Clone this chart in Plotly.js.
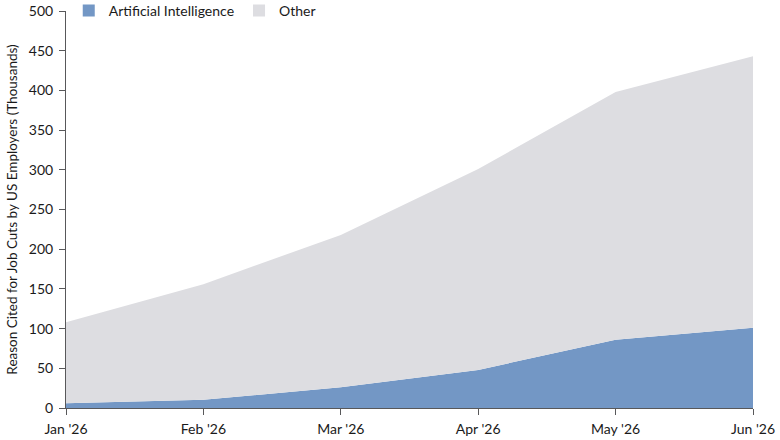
<!DOCTYPE html>
<html>
<head>
<meta charset="utf-8">
<script src="https://cdn.plot.ly/plotly-3.0.1.min.js"></script>
<style>
  html, body { margin: 0; padding: 0; background: #fff; }
  #plot { width: 780px; height: 440px; }
</style>
</head>
<body>
<div id="plot"></div>
<script>
// values, thousands of job cuts
const months = ["Jan '26", "Feb '26", "Mar '26", "Apr '26", "May '26", "Jun '26"];
const aiCuts = [6, 10.5, 26, 48, 86, 101];
const totalCuts = [108, 156, 218, 301, 398, 443];
const otherCuts = totalCuts.map((t, i) => t - aiCuts[i]);
const yTicks = [0, 50, 100, 150, 200, 250, 300, 350, 400, 450, 500];

const AI_COLOR = '#7397c5';
const OTHER_COLOR = '#dddde1';
const AXIS = '#58585a';
const FONT = 'Lato, "Open Sans", sans-serif';

const data = [
  {
    x: months,
    y: aiCuts,
    name: 'Artificial Intelligence',
    type: 'scatter',
    mode: 'none',
    stackgroup: 'one',
    fillcolor: AI_COLOR,
    showlegend: false,
    hoverinfo: 'skip'
  },
  {
    x: months,
    y: otherCuts,
    name: 'Other',
    type: 'scatter',
    mode: 'none',
    stackgroup: 'one',
    fillcolor: OTHER_COLOR,
    showlegend: false,
    hoverinfo: 'skip'
  },
  // zero-height bars, only there to get square legend swatches
  { x: [months[0]], y: [0], type: 'bar', name: 'Artificial Intelligence',
    marker: { color: AI_COLOR, line: { width: 0 } }, hoverinfo: 'skip' },
  { x: [months[0]], y: [0], type: 'bar', name: 'Other',
    marker: { color: OTHER_COLOR, line: { width: 0 } }, hoverinfo: 'skip' }
];

const layout = {
  width: 780,
  height: 440,
  margin: { l: 66, r: 27, t: 11, b: 32, autoexpand: false },
  paper_bgcolor: '#ffffff',
  plot_bgcolor: '#ffffff',
  font: { family: FONT, size: 14, color: '#1a1a1a' },
  showlegend: true,
  legend: {
    orientation: 'h',
    traceorder: 'normal',
    x: 0.004, xanchor: 'left',
    y: 1.0, yanchor: 'middle',
    font: { size: 14, color: '#1a1a1a' },
    bgcolor: 'rgba(0,0,0,0)',
    itemwidth: 30
  },
  xaxis: {
    type: 'category',
    range: [0, months.length - 1],
    showgrid: false,
    zeroline: false,
    showline: true,
    linecolor: AXIS,
    linewidth: 1,
    ticks: 'outside',
    ticklen: 6,
    tickcolor: AXIS,
    ticklabelstandoff: 2,
    tickfont: { size: 14, color: '#1a1a1a' }
  },
  yaxis: {
    range: [0, 500],
    tickmode: 'array',
    tickvals: yTicks,
    ticktext: yTicks.map(String),
    showgrid: false,
    zeroline: false,
    showline: true,
    linecolor: AXIS,
    linewidth: 1,
    ticks: 'outside',
    ticklen: 6,
    tickcolor: AXIS,
    ticklabelstandoff: 3,
    tickfont: { size: 14, color: '#1a1a1a' },
    title: {
      text: 'Reason Cited for Job Cuts by US Employers (Thousands)',
      font: { size: 13.5, color: '#1a1a1a' },
      standoff: 8
    }
  }
};

Plotly.newPlot('plot', data, layout, { displayModeBar: false, staticPlot: true });
</script>
</body>
</html>
